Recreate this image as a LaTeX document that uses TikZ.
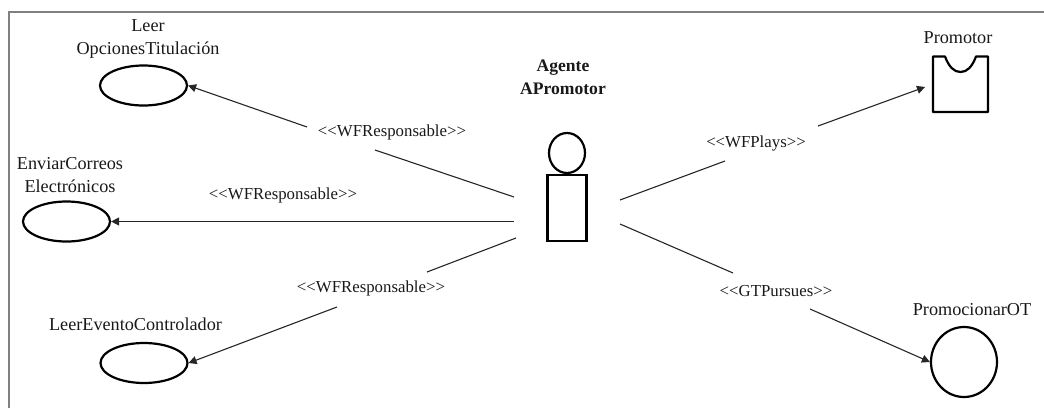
\documentclass[tikz,border=0pt]{standalone}
\usepackage{fontspec}
\setmainfont{Liberation Serif}
\usetikzlibrary{arrows.meta,shapes.geometric}
\tikzset{
  shapeline/.style={draw=black,line width=2.2pt,fill=white},
  usecase/.style={shapeline,ellipse,minimum width=87pt,minimum height=40pt,inner sep=0pt},
  goal/.style={shapeline,ellipse,minimum width=66pt,minimum height=70pt,inner sep=0pt},
  txt/.style={font=\fontsize{18.2pt}{23pt}\selectfont,align=center,inner sep=0pt,text=black!90},
  rel/.style={font=\fontsize{16.8pt}{20pt}\selectfont,inner sep=0pt,text=black!90},
  conn/.style={draw=black!85,line width=1.1pt},
  arr/.style={conn,-{Triangle[length=8pt,width=8pt]}}
}
\begin{document}
\begin{tikzpicture}[x=1pt,y=-1pt]
\useasboundingbox (0,0) rectangle (1044,408);
\path[draw=black!50,line width=1.4pt] (9,408) -- (9,12) -- (1044,12);
% use cases
\node[usecase] (uc1) at (143.5,85.5) {};
\node[usecase] (uc2) at (66.5,221.5) {};
\node[usecase] (uc3) at (144,363) {};
\node[goal] (goal) at (964,362) {};
% agent
\node[shapeline,ellipse,minimum width=36pt,minimum height=40pt,inner sep=0pt] (head) at (567,153) {};
\node[shapeline,rectangle,minimum width=39pt,minimum height=66pt,inner sep=0pt] (body) at (567,208) {};
% role
\draw[shapeline,line join=round] (933,56.5) -- (945,56.5) .. controls (949,67) and (954,72) .. (960.5,72) .. controls (967,72) and (972,67) .. (976,56.5) -- (988,56.5) -- (988,112) -- (933,112) -- cycle;
\coordinate (role) at (925,87);
% texts
\node[txt] (t1) at (148,38.5) {Leer\\OpcionesTitulación};
\node[txt] (t2) at (70,175) {EnviarCorreos\\Electrónicos};
\node[txt] (t3) at (135.5,324) {LeerEventoControlador};
\node[txt] (t4) at (958,38) {Promotor};
\node[txt] (t5) at (972,310) {PromocionarOT};
\node[txt,font=\fontsize{17.6pt}{23pt}\selectfont\bfseries] (t6) at (563,77) {Agente\\APromotor};
% labels
\node[rel] (l1) at (392,132.5) {<{}<WFResponsable>{}>};
\node[rel] (l2) at (283,195.5) {<{}<WFResponsable>{}>};
\node[rel] (l3) at (371,288.5) {<{}<WFResponsable>{}>};
\node[rel] (l4) at (756,143.5) {<{}<WFPlays>{}>};
\node[rel] (l5) at (776,291.5) {<{}<GTPursues>{}>};
% connector ends at the agent and at the label gaps
\coordinate (s1) at (514,197); \coordinate (g1a) at (375,150); \coordinate (g1b) at (307,127);
\coordinate (s2) at (514,221.5);
\coordinate (s3) at (516,238); \coordinate (g3a) at (427,272); \coordinate (g3b) at (337,307);
\coordinate (s4) at (620,200); \coordinate (g4a) at (725,161); \coordinate (g4b) at (818,126);
\coordinate (s5) at (620,224); \coordinate (g5a) at (733,273); \coordinate (g5b) at (810,309);
\draw[conn] (s1) -- (g1a);
\draw[arr] (g1b) -- (uc1.east);
\draw[arr] (s2) -- (uc2.east);
\draw[conn] (s3) -- (g3a);
\draw[arr] (g3b) -- (uc3.east);
\draw[conn] (s4) -- (g4a);
\draw[arr] (g4b) -- (role);
\draw[conn] (s5) -- (g5a);
\draw[arr] (g5b) -- (goal.west);
\end{tikzpicture}
\end{document}
